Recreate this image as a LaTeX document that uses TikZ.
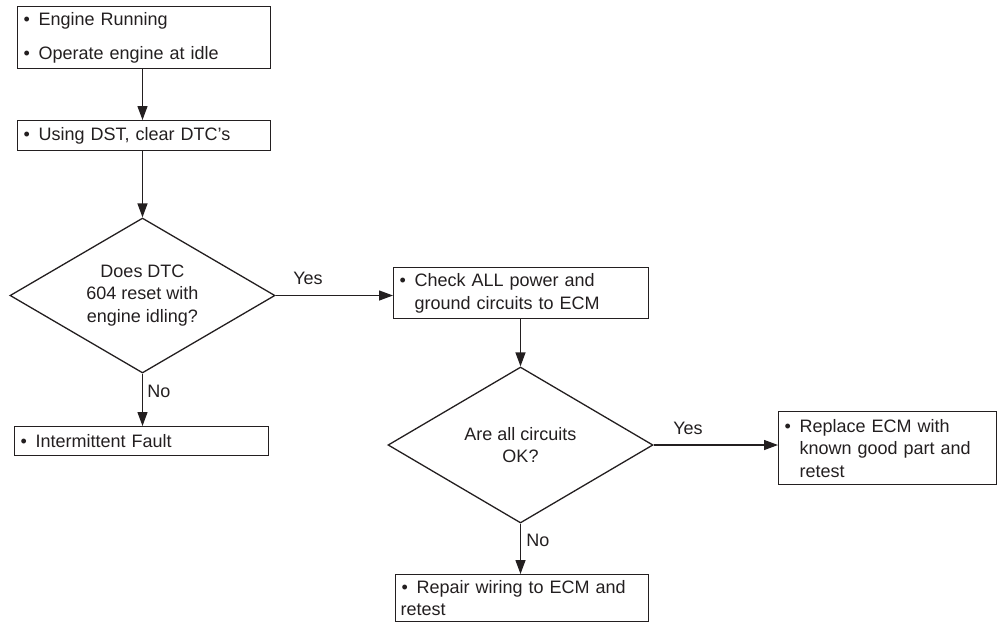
\documentclass[tikz,border=0pt]{standalone}
\usepackage{fontspec}
\setmainfont{Liberation Sans}
\usetikzlibrary{shapes.geometric,arrows.meta}
\definecolor{ink}{HTML}{231F20}
\newcommand{\bul}{\makebox[16pt][l]{\hspace{1pt}\textbullet}}
\newcommand{\ind}{\hspace*{16pt}}
\begin{document}
\begin{tikzpicture}[x=1pt,y=-1pt,
  every node/.style={font=\fontsize{18}{22.5}\selectfont, text=ink},
  box/.style={draw=ink, line width=1.3pt, rectangle, anchor=north west, align=left, inner xsep=5pt, inner ysep=0pt},
  dec/.style={draw=ink, line width=1.3pt, diamond, inner sep=0pt, aspect=1.71, align=center},
  conn/.style={draw=ink, line width=1.3pt, -{Triangle[length=14pt,width=10pt]}},
  lbl/.style={inner sep=0pt}]
\useasboundingbox (0,0) rectangle (997,622);
% boxes
\node[box, minimum width=253pt, minimum height=62pt, text width=243pt] (b1) at (17,6)
  {\bul Engine Running\\[11.5pt]\bul Operate engine at idle};
\node[box, minimum width=253pt, minimum height=30pt, text width=243pt] (b2) at (17,120)
  {\bul Using DST, clear DTC’s};
\node[dec, minimum width=265pt, minimum height=155pt] (d1) at (142.5,295.5)
  {Does DTC\\604 reset with\\engine idling?};
\node[box, minimum width=255pt, minimum height=51pt, text width=245pt] (b3) at (393,267)
  {\bul Check ALL power and\\\ind ground circuits to ECM};
\node[box, minimum width=254pt, minimum height=29pt, text width=244pt] (b4) at (14,426)
  {\bul Intermittent Fault};
\node[dec, minimum width=265pt, minimum height=156pt] (d2) at (520.5,445)
  {Are all circuits\\OK?};
\node[box, minimum width=218pt, minimum height=73pt, text width=208pt] (b5) at (778,411)
  {\bul Replace ECM with\\\ind known good part and\\\ind retest};
\node[box, minimum width=253pt, minimum height=47pt, text width=243pt] (b6) at (395,574)
  {\bul Repair wiring to ECM and\\retest};
% connectors
\draw[conn] (b1.south -| d1.north) -- (b2.north -| d1.north);
\draw[conn] (b2.south -| d1.north) -- (d1.north);
\draw[conn] (d1.east) -- (d1.east -| b3.west);
\draw[conn] (d1.south) -- (d1.south |- b4.north);
\draw[conn] (b3.south -| d2.north) -- (d2.north);
\draw[conn] (d2.east) -- (d2.east -| b5.west);
\draw[conn] (d2.south) -- (d2.south |- b6.north);
% labels
\node[lbl] (y1) at (308,278) {Yes};
\node[lbl] (n1) at (159,391) {No};
\node[lbl] (y2) at (688,428) {Yes};
\node[lbl] (n2) at (538,540) {No};
\end{tikzpicture}
\end{document}
